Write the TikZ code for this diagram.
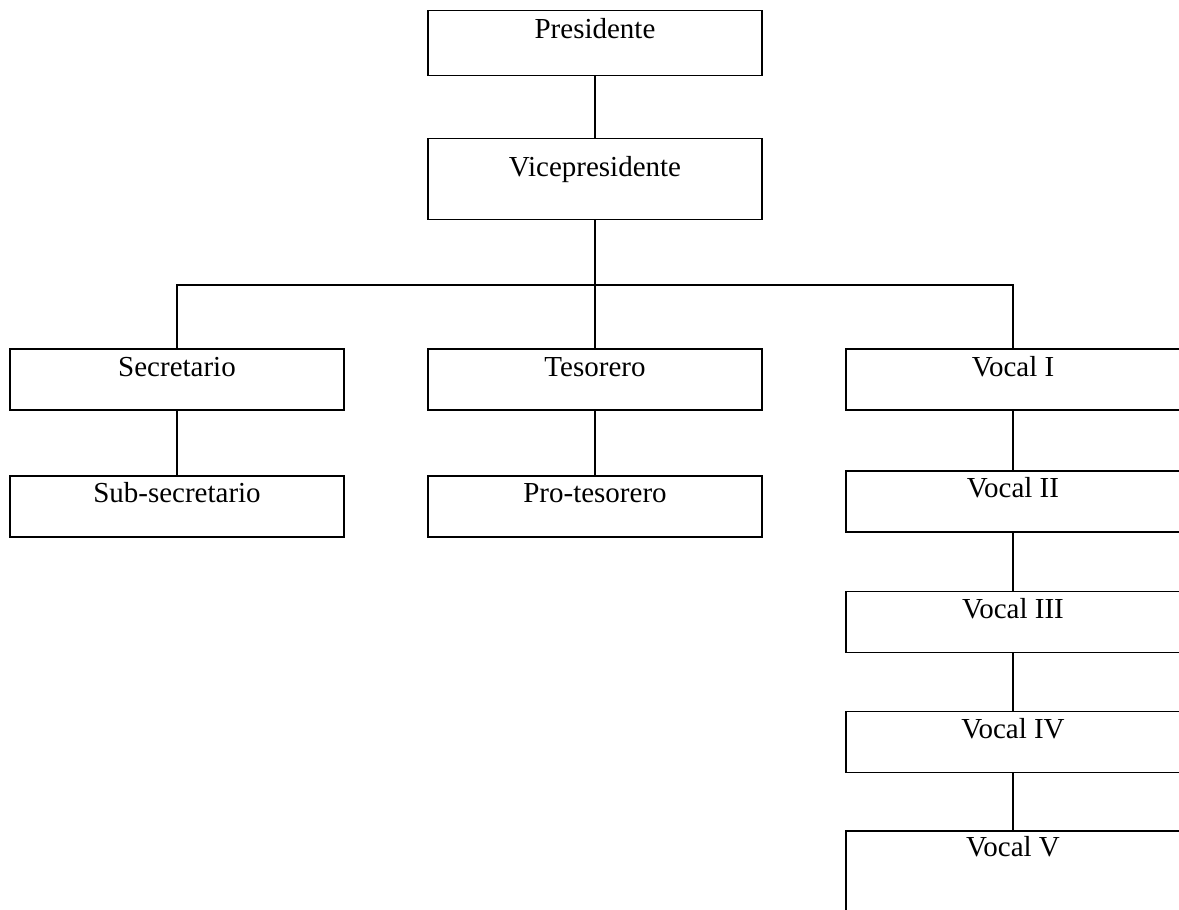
\documentclass[tikz,border=0pt]{standalone}
\usepackage{fontspec}
\setmainfont{Liberation Serif}
\usepackage{tikz}
\usetikzlibrary{positioning}
\tikzset
{
  orgbox/.style  = {rectangle, draw=black, align=center, anchor=north, inner sep=0pt, minimum width=6.68cm,
                    font=\fontsize{16.5}{20}\selectfont, text height=0.54cm, text depth=0.68cm},
  presbox/.style = {orgbox, text height=0.56cm, text depth=0.74cm},
  vicebox/.style = {orgbox, text height=0.76cm, text depth=0.86cm},
  lastbox/.style = {orgbox, text height=0.52cm, text depth=1.5cm}
}

\begin{document}
\begin{tikzpicture}[line width=0.8pt, parent anchor=south, child anchor=north,
    level/.style={level distance=1.77cm,
      edge from parent path={(\tikzparentnode.south) -- (\tikzchildnode.north)}},
    level 1/.style={level distance=1.89cm},
    level 2/.style={sibling distance=8.36cm, level distance=3.39cm,
      edge from parent path={(\tikzparentnode.south) -- ++(0,-1.3) -| (\tikzchildnode.north)}},
    level 3/.style={level distance=1.91cm}]
            \useasboundingbox (-11.9,0.2) rectangle (11.68,-17.98);
            \clip (-11.9,0.2) rectangle (11.68,-17.98);
            \node [presbox] (pres) {Presidente}
            child{
              node [vicebox] (vice) {Vicepresidente}
              child{
                node [orgbox] (sec) {Secretario}
                child{
                  node [orgbox] (subsec) {Sub-secretario}
                }
              }
              child{
                node [orgbox] (tes) {Tesorero}
                child{
                  node [orgbox] (protes) {Pro-tesorero}
                }
              }
              child{
                node [orgbox] (vocI) {Vocal I}
                child[level distance=1.81cm]{
                  node [orgbox] (vocII) {Vocal II}
                  child[level distance=1.79cm]{
                    node [orgbox] (vocIII) {Vocal III}
                    child{
                      node [orgbox] (vocIV) {Vocal IV}
                      child{
                        node [lastbox] (vocV) {Vocal V}
                      }
                    }
                  }
                }
              }
            };
          \end{tikzpicture}
\end{document}
